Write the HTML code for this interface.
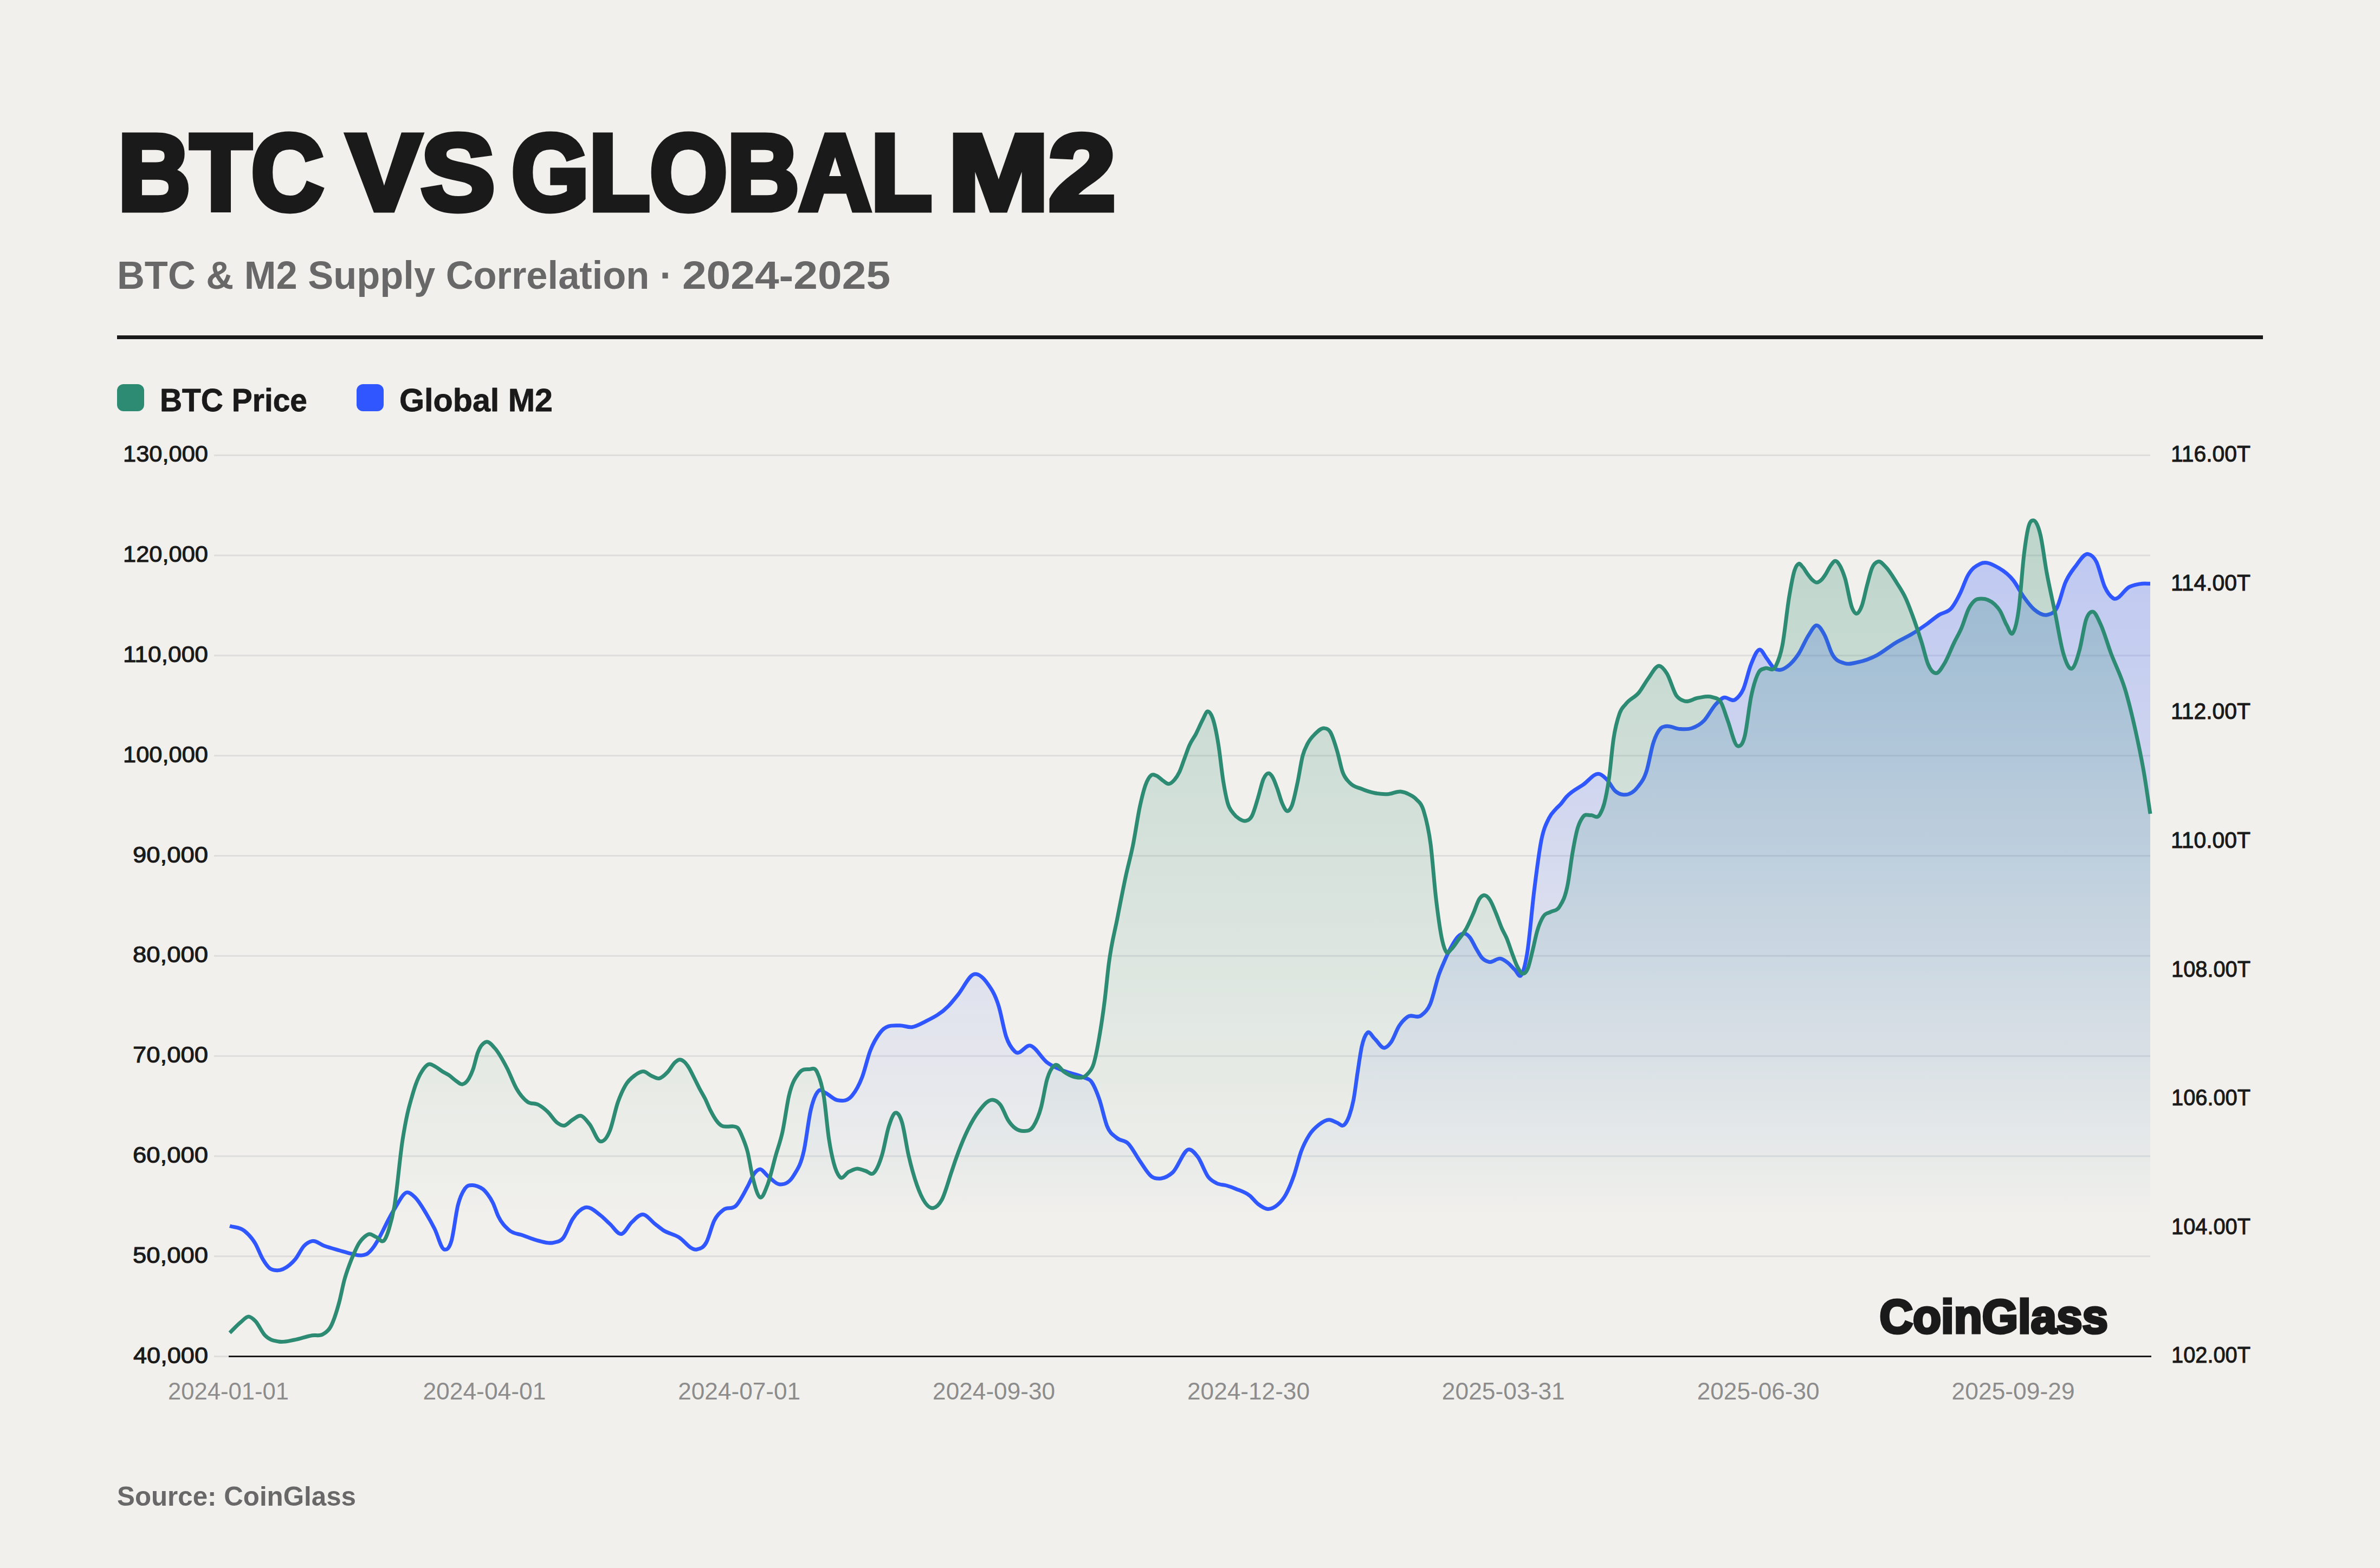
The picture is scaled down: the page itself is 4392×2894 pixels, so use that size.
<!DOCTYPE html><html><head><meta charset="utf-8"><style>html,body{margin:0;padding:0;background:#F1F0EC;}body{width:4392px;height:2894px;overflow:hidden;}svg{display:block;font-family:"Liberation Sans",sans-serif;}</style></head><body>
<svg width="4392" height="2894" viewBox="0 0 4392 2894">
<defs>
<linearGradient id="gg" gradientUnits="userSpaceOnUse" x1="0" y1="960" x2="0" y2="2250"><stop offset="0" stop-color="#2E8B73" stop-opacity="0.270"/><stop offset="1" stop-color="#2E8B73" stop-opacity="0.000"/></linearGradient>
<linearGradient id="bg" gradientUnits="userSpaceOnUse" x1="0" y1="1022" x2="0" y2="2250"><stop offset="0" stop-color="#3057FF" stop-opacity="0.260"/><stop offset="1" stop-color="#3057FF" stop-opacity="0.000"/></linearGradient>
<clipPath id="fc"><rect x="424" y="0" width="3544" height="2237"/></clipPath>
</defs>
<rect width="4392" height="2894" fill="#F1F0EC"/>
<rect x="216" y="619" width="3960" height="7" fill="#1A1A1A"/>
<rect x="216" y="709" width="50" height="50" rx="12" fill="#2E8B73"/>
<rect x="658" y="709" width="50" height="50" rx="12" fill="#3057FF"/>
<rect x="395" y="838.8" width="3573" height="3" fill="#DDDDDB"/>
<rect x="395" y="1023.6" width="3573" height="3" fill="#DDDDDB"/>
<rect x="395" y="1208.4" width="3573" height="3" fill="#DDDDDB"/>
<rect x="395" y="1393.2" width="3573" height="3" fill="#DDDDDB"/>
<rect x="395" y="1578.0" width="3573" height="3" fill="#DDDDDB"/>
<rect x="395" y="1762.8" width="3573" height="3" fill="#DDDDDB"/>
<rect x="395" y="1947.6" width="3573" height="3" fill="#DDDDDB"/>
<rect x="395" y="2132.4" width="3573" height="3" fill="#DDDDDB"/>
<rect x="395" y="2317.2" width="3573" height="3" fill="#DDDDDB"/>
<rect x="395" y="2502.0" width="28" height="3" fill="#DDDDDB"/>
<g clip-path="url(#fc)"><path d="M424.0,2262.7C433.0,2265.7 442.0,2264.4 451.0,2271.7C457.7,2277.1 464.3,2283.7 471.0,2295.0C475.7,2302.9 480.3,2316.2 485.0,2324.0C489.3,2331.3 493.7,2337.6 498.0,2341.0C501.7,2343.8 505.3,2344.2 509.0,2344.6C517.3,2345.5 525.7,2341.8 534.0,2335.0C537.7,2332.0 541.3,2328.5 545.0,2324.0C550.3,2317.5 555.7,2305.2 561.0,2299.6C566.0,2294.4 571.0,2291.6 576.0,2290.6C583.3,2289.1 590.7,2296.6 598.0,2299.2C607.6,2302.6 617.2,2305.2 626.8,2308.0C634.5,2310.2 642.3,2312.7 650.0,2314.3C655.7,2315.5 661.3,2317.7 667.0,2317.0C670.9,2316.5 674.7,2316.2 678.6,2313.4C682.2,2310.9 685.7,2306.7 689.3,2301.8C692.3,2297.7 695.2,2292.7 698.2,2287.5C701.2,2282.3 704.1,2276.3 707.1,2270.5C710.1,2264.7 713.0,2258.4 716.0,2252.7C720.7,2243.8 725.3,2235.4 730.0,2228.0C736.7,2217.4 743.3,2202.9 750.0,2201.0C755.3,2199.5 760.7,2204.9 766.0,2210.0C772.7,2216.4 779.3,2228.0 786.0,2239.0C791.3,2247.8 796.7,2257.5 802.0,2268.0C807.9,2279.6 813.7,2304.4 819.6,2306.0C824.1,2307.3 828.5,2305.9 833.0,2290.6C837.1,2276.7 841.1,2239.9 845.2,2223.9C849.5,2206.7 853.8,2199.6 858.1,2193.4C862.8,2186.9 867.4,2187.6 872.0,2187.4C875.1,2187.3 878.2,2188.4 881.3,2189.6C884.7,2190.9 888.2,2192.1 891.6,2195.0C894.3,2197.3 896.9,2200.3 899.6,2203.9C903.0,2208.4 906.3,2213.3 909.7,2220.2C913.0,2227.0 916.3,2238.1 919.6,2245.0C926.1,2258.4 932.5,2264.2 939.0,2270.0C947.6,2277.8 956.2,2276.8 964.8,2280.0C974.4,2283.5 983.9,2287.8 993.5,2290.0C1003.0,2292.2 1012.5,2295.8 1022.0,2293.3C1027.8,2291.8 1033.6,2292.0 1039.4,2284.7C1045.2,2277.5 1050.9,2258.9 1056.7,2250.0C1064.3,2238.2 1072.0,2230.9 1079.6,2228.7C1089.1,2226.0 1098.5,2235.8 1108.0,2243.0C1113.8,2247.4 1119.7,2253.8 1125.5,2259.0C1132.7,2265.4 1139.8,2279.0 1147.0,2277.5C1153.2,2276.2 1159.5,2261.9 1165.7,2256.0C1172.4,2249.7 1179.1,2241.8 1185.8,2241.6C1193.5,2241.4 1201.1,2253.1 1208.8,2259.0C1213.5,2262.6 1218.3,2266.8 1223.0,2270.0C1232.6,2276.4 1242.2,2277.7 1251.8,2283.0C1263.2,2289.3 1274.6,2309.0 1286.0,2306.0C1291.8,2304.5 1297.7,2303.8 1303.5,2293.0C1308.3,2284.1 1313.2,2262.8 1318.0,2253.0C1323.7,2241.5 1329.3,2237.6 1335.0,2233.0C1342.7,2226.8 1350.3,2233.2 1358.0,2225.5C1365.2,2218.3 1372.4,2203.2 1379.6,2190.0C1383.7,2182.4 1387.9,2171.2 1392.0,2165.8C1395.5,2161.2 1399.1,2158.1 1402.6,2158.0C1407.2,2157.9 1411.7,2166.3 1416.3,2170.0C1423.5,2175.9 1430.6,2184.7 1437.8,2185.7C1446.9,2186.9 1455.9,2184.5 1465.0,2169.0C1471.2,2158.4 1477.5,2151.6 1483.7,2123.0C1487.8,2104.2 1491.9,2067.4 1496.0,2049.4C1501.1,2027.0 1506.2,2017.1 1511.3,2012.7C1515.4,2009.2 1519.4,2015.4 1523.5,2017.3C1530.7,2020.6 1537.8,2029.0 1545.0,2030.5C1554.2,2032.4 1563.3,2033.2 1572.5,2022.0C1578.7,2014.5 1584.8,2004.2 1591.0,1988.0C1596.0,1974.9 1601.0,1952.1 1606.0,1939.0C1612.2,1922.9 1618.3,1913.6 1624.5,1905.5C1636.3,1890.1 1648.0,1893.4 1659.8,1892.7C1667.4,1892.2 1675.1,1896.7 1682.7,1895.7C1690.9,1894.6 1699.0,1889.7 1707.2,1885.6C1721.5,1878.4 1735.7,1871.7 1750.0,1857.0C1756.0,1850.8 1762.0,1843.0 1768.0,1835.7C1778.0,1823.6 1788.0,1799.7 1798.0,1798.0C1805.8,1796.7 1813.6,1803.4 1821.4,1814.0C1828.6,1823.8 1835.8,1833.6 1843.0,1857.0C1847.7,1872.2 1852.3,1900.2 1857.0,1914.0C1862.3,1929.8 1867.7,1935.9 1873.0,1941.0C1882.6,1950.1 1892.2,1927.1 1901.8,1930.0C1911.9,1933.0 1921.9,1953.0 1932.0,1960.7C1942.7,1968.9 1953.3,1972.3 1964.0,1976.8C1976.0,1981.8 1988.0,1982.7 2000.0,1988.6C2004.7,1990.9 2009.3,1990.0 2014.0,1996.4C2018.9,2003.0 2023.7,2014.8 2028.6,2028.6C2033.4,2042.2 2038.2,2066.8 2043.0,2078.6C2048.9,2093.1 2054.8,2094.8 2060.7,2100.0C2067.8,2106.3 2074.9,2103.6 2082.0,2110.7C2089.2,2117.9 2096.4,2132.8 2103.6,2143.0C2110.7,2153.1 2117.9,2166.3 2125.0,2171.4C2130.9,2175.6 2136.9,2175.8 2142.8,2175.0C2149.9,2174.1 2156.9,2170.2 2164.0,2164.0C2174.2,2155.1 2184.4,2120.4 2194.6,2121.4C2200.0,2121.9 2205.3,2128.4 2210.7,2135.7C2217.1,2144.4 2223.6,2164.6 2230.0,2172.7C2235.1,2179.1 2240.2,2181.4 2245.3,2184.0C2251.2,2187.0 2257.1,2186.3 2263.0,2188.0C2269.0,2189.7 2275.0,2191.9 2281.0,2194.4C2289.5,2197.9 2298.0,2200.1 2306.5,2207.0C2311.6,2211.2 2316.7,2218.5 2321.8,2222.4C2327.8,2227.0 2333.7,2231.2 2339.7,2231.4C2345.7,2231.6 2351.6,2228.9 2357.6,2223.7C2362.7,2219.3 2367.8,2213.8 2372.9,2204.6C2377.9,2195.5 2383.0,2183.5 2388.0,2169.0C2392.3,2156.5 2396.7,2137.4 2401.0,2125.5C2406.0,2111.8 2411.0,2103.0 2416.0,2095.0C2422.0,2085.4 2428.0,2080.5 2434.0,2075.8C2440.3,2070.9 2446.7,2066.7 2453.0,2066.8C2457.7,2066.9 2462.3,2070.5 2467.0,2072.0C2471.7,2073.5 2476.3,2080.6 2481.0,2075.8C2484.0,2072.7 2487.0,2067.7 2490.0,2059.0C2492.7,2051.3 2495.3,2042.9 2498.0,2028.6C2500.5,2015.2 2503.0,1993.8 2505.5,1977.6C2508.0,1961.4 2510.5,1943.1 2513.0,1931.6C2516.5,1915.7 2519.9,1909.4 2523.4,1906.0C2527.6,1901.9 2531.8,1912.7 2536.0,1916.3C2542.3,1921.8 2548.7,1935.1 2555.0,1934.0C2558.9,1933.3 2562.8,1929.3 2566.7,1924.0C2571.8,1917.1 2576.9,1901.3 2582.0,1893.4C2587.1,1885.5 2592.2,1880.5 2597.3,1876.8C2605.8,1870.7 2614.4,1881.0 2622.9,1874.0C2628.4,1869.5 2633.9,1865.7 2639.4,1852.8C2644.7,1840.3 2650.1,1813.4 2655.4,1798.6C2657.9,1791.7 2660.4,1785.9 2662.9,1780.0C2667.9,1768.1 2673.0,1756.9 2678.0,1747.9C2682.3,1740.1 2686.7,1732.5 2691.0,1728.3C2695.0,1724.5 2699.0,1722.0 2703.0,1722.9C2706.2,1723.7 2709.5,1726.4 2712.7,1730.5C2716.3,1735.1 2720.0,1743.8 2723.6,1750.0C2727.2,1756.1 2730.8,1763.2 2734.4,1767.4C2738.8,1772.5 2743.2,1774.2 2747.7,1775.4C2754.9,1777.4 2762.2,1767.4 2769.5,1769.3C2773.8,1770.4 2778.2,1773.5 2782.5,1776.9C2786.8,1780.3 2791.2,1786.0 2795.5,1789.9C2799.5,1793.5 2803.4,1805.7 2807.4,1799.6C2811.0,1794.0 2814.6,1781.6 2818.2,1759.5C2822.6,1733.0 2826.9,1677.2 2831.3,1642.5C2835.6,1607.9 2839.9,1573.4 2844.2,1551.5C2848.9,1527.8 2853.6,1520.1 2858.3,1510.3C2862.6,1501.2 2867.0,1497.9 2871.3,1493.0C2874.2,1489.7 2877.1,1487.6 2880.0,1484.3C2883.5,1480.4 2887.0,1474.9 2890.5,1470.9C2900.8,1459.2 2911.1,1455.4 2921.4,1448.4C2931.7,1441.4 2942.0,1425.2 2952.3,1428.8C2957.0,1430.4 2961.6,1434.9 2966.3,1440.0C2971.0,1445.1 2975.7,1455.2 2980.4,1459.6C2985.5,1464.5 2990.7,1466.2 2995.8,1466.7C3004.5,1467.5 3013.1,1464.4 3021.8,1453.0C3027.5,1445.5 3033.3,1440.3 3039.0,1421.5C3042.8,1408.9 3046.7,1385.1 3050.5,1372.7C3055.3,1357.2 3060.0,1348.8 3064.8,1344.0C3067.7,1341.1 3070.5,1341.2 3073.4,1340.5C3082.0,1338.3 3090.7,1344.9 3099.3,1345.4C3106.9,1345.8 3114.4,1346.6 3122.0,1344.0C3129.7,1341.4 3137.3,1337.6 3145.0,1329.6C3151.8,1322.5 3158.5,1308.5 3165.3,1301.0C3170.1,1295.7 3174.8,1290.4 3179.6,1288.0C3187.3,1284.1 3194.9,1296.7 3202.6,1290.9C3207.4,1287.3 3212.2,1282.8 3217.0,1272.0C3221.8,1261.2 3226.5,1238.2 3231.3,1226.3C3236.5,1213.2 3241.8,1199.6 3247.0,1199.0C3251.3,1198.5 3255.7,1209.3 3260.0,1214.8C3264.8,1220.8 3269.5,1230.1 3274.3,1233.5C3278.1,1236.3 3282.0,1236.7 3285.8,1236.3C3290.0,1235.8 3294.2,1233.1 3298.4,1230.0C3305.3,1225.0 3312.1,1217.4 3319.0,1207.0C3325.1,1197.7 3331.3,1181.9 3337.4,1172.6C3342.4,1165.1 3347.3,1154.2 3352.3,1154.2C3357.3,1154.2 3362.3,1163.1 3367.3,1172.6C3371.9,1181.3 3376.4,1198.5 3381.0,1207.0C3388.7,1221.2 3396.3,1221.5 3404.0,1224.2C3412.4,1227.2 3420.9,1223.7 3429.3,1222.0C3440.8,1219.6 3452.2,1215.2 3463.7,1209.3C3475.1,1203.4 3486.6,1193.2 3498.0,1186.4C3508.0,1180.4 3518.0,1176.3 3528.0,1170.3C3537.2,1164.8 3546.3,1158.5 3555.5,1152.0C3563.2,1146.5 3570.8,1139.7 3578.5,1134.7C3586.2,1129.7 3593.8,1131.5 3601.5,1122.0C3606.8,1115.4 3612.2,1105.4 3617.5,1094.5C3622.1,1085.1 3626.7,1070.7 3631.3,1062.4C3639.0,1048.5 3646.6,1044.3 3654.3,1040.6C3665.8,1035.1 3677.4,1041.9 3688.9,1048.6C3697.8,1053.8 3706.7,1060.1 3715.6,1071.5C3722.0,1079.7 3728.4,1093.1 3734.8,1102.0C3741.2,1110.9 3747.6,1119.6 3754.0,1125.0C3762.3,1132.0 3770.5,1137.2 3778.8,1134.7C3784.5,1133.0 3790.3,1132.5 3796.0,1121.3C3801.1,1111.3 3806.2,1087.5 3811.3,1075.4C3817.7,1060.3 3824.0,1053.2 3830.4,1044.8C3838.1,1034.7 3845.7,1021.2 3853.4,1022.6C3858.5,1023.5 3863.6,1026.9 3868.7,1037.0C3873.8,1047.1 3878.9,1071.8 3884.0,1083.0C3889.1,1094.2 3894.2,1100.5 3899.3,1104.0C3909.5,1111.0 3919.7,1087.4 3929.9,1083.0C3937.5,1079.7 3945.2,1078.1 3952.8,1077.3C3957.9,1076.8 3962.9,1077.3 3968.0,1077.3L3968,2503 L424,2503 Z" fill="url(#bg)"/></g>
<path d="M424.0,2262.7C433.0,2265.7 442.0,2264.4 451.0,2271.7C457.7,2277.1 464.3,2283.7 471.0,2295.0C475.7,2302.9 480.3,2316.2 485.0,2324.0C489.3,2331.3 493.7,2337.6 498.0,2341.0C501.7,2343.8 505.3,2344.2 509.0,2344.6C517.3,2345.5 525.7,2341.8 534.0,2335.0C537.7,2332.0 541.3,2328.5 545.0,2324.0C550.3,2317.5 555.7,2305.2 561.0,2299.6C566.0,2294.4 571.0,2291.6 576.0,2290.6C583.3,2289.1 590.7,2296.6 598.0,2299.2C607.6,2302.6 617.2,2305.2 626.8,2308.0C634.5,2310.2 642.3,2312.7 650.0,2314.3C655.7,2315.5 661.3,2317.7 667.0,2317.0C670.9,2316.5 674.7,2316.2 678.6,2313.4C682.2,2310.9 685.7,2306.7 689.3,2301.8C692.3,2297.7 695.2,2292.7 698.2,2287.5C701.2,2282.3 704.1,2276.3 707.1,2270.5C710.1,2264.7 713.0,2258.4 716.0,2252.7C720.7,2243.8 725.3,2235.4 730.0,2228.0C736.7,2217.4 743.3,2202.9 750.0,2201.0C755.3,2199.5 760.7,2204.9 766.0,2210.0C772.7,2216.4 779.3,2228.0 786.0,2239.0C791.3,2247.8 796.7,2257.5 802.0,2268.0C807.9,2279.6 813.7,2304.4 819.6,2306.0C824.1,2307.3 828.5,2305.9 833.0,2290.6C837.1,2276.7 841.1,2239.9 845.2,2223.9C849.5,2206.7 853.8,2199.6 858.1,2193.4C862.8,2186.9 867.4,2187.6 872.0,2187.4C875.1,2187.3 878.2,2188.4 881.3,2189.6C884.7,2190.9 888.2,2192.1 891.6,2195.0C894.3,2197.3 896.9,2200.3 899.6,2203.9C903.0,2208.4 906.3,2213.3 909.7,2220.2C913.0,2227.0 916.3,2238.1 919.6,2245.0C926.1,2258.4 932.5,2264.2 939.0,2270.0C947.6,2277.8 956.2,2276.8 964.8,2280.0C974.4,2283.5 983.9,2287.8 993.5,2290.0C1003.0,2292.2 1012.5,2295.8 1022.0,2293.3C1027.8,2291.8 1033.6,2292.0 1039.4,2284.7C1045.2,2277.5 1050.9,2258.9 1056.7,2250.0C1064.3,2238.2 1072.0,2230.9 1079.6,2228.7C1089.1,2226.0 1098.5,2235.8 1108.0,2243.0C1113.8,2247.4 1119.7,2253.8 1125.5,2259.0C1132.7,2265.4 1139.8,2279.0 1147.0,2277.5C1153.2,2276.2 1159.5,2261.9 1165.7,2256.0C1172.4,2249.7 1179.1,2241.8 1185.8,2241.6C1193.5,2241.4 1201.1,2253.1 1208.8,2259.0C1213.5,2262.6 1218.3,2266.8 1223.0,2270.0C1232.6,2276.4 1242.2,2277.7 1251.8,2283.0C1263.2,2289.3 1274.6,2309.0 1286.0,2306.0C1291.8,2304.5 1297.7,2303.8 1303.5,2293.0C1308.3,2284.1 1313.2,2262.8 1318.0,2253.0C1323.7,2241.5 1329.3,2237.6 1335.0,2233.0C1342.7,2226.8 1350.3,2233.2 1358.0,2225.5C1365.2,2218.3 1372.4,2203.2 1379.6,2190.0C1383.7,2182.4 1387.9,2171.2 1392.0,2165.8C1395.5,2161.2 1399.1,2158.1 1402.6,2158.0C1407.2,2157.9 1411.7,2166.3 1416.3,2170.0C1423.5,2175.9 1430.6,2184.7 1437.8,2185.7C1446.9,2186.9 1455.9,2184.5 1465.0,2169.0C1471.2,2158.4 1477.5,2151.6 1483.7,2123.0C1487.8,2104.2 1491.9,2067.4 1496.0,2049.4C1501.1,2027.0 1506.2,2017.1 1511.3,2012.7C1515.4,2009.2 1519.4,2015.4 1523.5,2017.3C1530.7,2020.6 1537.8,2029.0 1545.0,2030.5C1554.2,2032.4 1563.3,2033.2 1572.5,2022.0C1578.7,2014.5 1584.8,2004.2 1591.0,1988.0C1596.0,1974.9 1601.0,1952.1 1606.0,1939.0C1612.2,1922.9 1618.3,1913.6 1624.5,1905.5C1636.3,1890.1 1648.0,1893.4 1659.8,1892.7C1667.4,1892.2 1675.1,1896.7 1682.7,1895.7C1690.9,1894.6 1699.0,1889.7 1707.2,1885.6C1721.5,1878.4 1735.7,1871.7 1750.0,1857.0C1756.0,1850.8 1762.0,1843.0 1768.0,1835.7C1778.0,1823.6 1788.0,1799.7 1798.0,1798.0C1805.8,1796.7 1813.6,1803.4 1821.4,1814.0C1828.6,1823.8 1835.8,1833.6 1843.0,1857.0C1847.7,1872.2 1852.3,1900.2 1857.0,1914.0C1862.3,1929.8 1867.7,1935.9 1873.0,1941.0C1882.6,1950.1 1892.2,1927.1 1901.8,1930.0C1911.9,1933.0 1921.9,1953.0 1932.0,1960.7C1942.7,1968.9 1953.3,1972.3 1964.0,1976.8C1976.0,1981.8 1988.0,1982.7 2000.0,1988.6C2004.7,1990.9 2009.3,1990.0 2014.0,1996.4C2018.9,2003.0 2023.7,2014.8 2028.6,2028.6C2033.4,2042.2 2038.2,2066.8 2043.0,2078.6C2048.9,2093.1 2054.8,2094.8 2060.7,2100.0C2067.8,2106.3 2074.9,2103.6 2082.0,2110.7C2089.2,2117.9 2096.4,2132.8 2103.6,2143.0C2110.7,2153.1 2117.9,2166.3 2125.0,2171.4C2130.9,2175.6 2136.9,2175.8 2142.8,2175.0C2149.9,2174.1 2156.9,2170.2 2164.0,2164.0C2174.2,2155.1 2184.4,2120.4 2194.6,2121.4C2200.0,2121.9 2205.3,2128.4 2210.7,2135.7C2217.1,2144.4 2223.6,2164.6 2230.0,2172.7C2235.1,2179.1 2240.2,2181.4 2245.3,2184.0C2251.2,2187.0 2257.1,2186.3 2263.0,2188.0C2269.0,2189.7 2275.0,2191.9 2281.0,2194.4C2289.5,2197.9 2298.0,2200.1 2306.5,2207.0C2311.6,2211.2 2316.7,2218.5 2321.8,2222.4C2327.8,2227.0 2333.7,2231.2 2339.7,2231.4C2345.7,2231.6 2351.6,2228.9 2357.6,2223.7C2362.7,2219.3 2367.8,2213.8 2372.9,2204.6C2377.9,2195.5 2383.0,2183.5 2388.0,2169.0C2392.3,2156.5 2396.7,2137.4 2401.0,2125.5C2406.0,2111.8 2411.0,2103.0 2416.0,2095.0C2422.0,2085.4 2428.0,2080.5 2434.0,2075.8C2440.3,2070.9 2446.7,2066.7 2453.0,2066.8C2457.7,2066.9 2462.3,2070.5 2467.0,2072.0C2471.7,2073.5 2476.3,2080.6 2481.0,2075.8C2484.0,2072.7 2487.0,2067.7 2490.0,2059.0C2492.7,2051.3 2495.3,2042.9 2498.0,2028.6C2500.5,2015.2 2503.0,1993.8 2505.5,1977.6C2508.0,1961.4 2510.5,1943.1 2513.0,1931.6C2516.5,1915.7 2519.9,1909.4 2523.4,1906.0C2527.6,1901.9 2531.8,1912.7 2536.0,1916.3C2542.3,1921.8 2548.7,1935.1 2555.0,1934.0C2558.9,1933.3 2562.8,1929.3 2566.7,1924.0C2571.8,1917.1 2576.9,1901.3 2582.0,1893.4C2587.1,1885.5 2592.2,1880.5 2597.3,1876.8C2605.8,1870.7 2614.4,1881.0 2622.9,1874.0C2628.4,1869.5 2633.9,1865.7 2639.4,1852.8C2644.7,1840.3 2650.1,1813.4 2655.4,1798.6C2657.9,1791.7 2660.4,1785.9 2662.9,1780.0C2667.9,1768.1 2673.0,1756.9 2678.0,1747.9C2682.3,1740.1 2686.7,1732.5 2691.0,1728.3C2695.0,1724.5 2699.0,1722.0 2703.0,1722.9C2706.2,1723.7 2709.5,1726.4 2712.7,1730.5C2716.3,1735.1 2720.0,1743.8 2723.6,1750.0C2727.2,1756.1 2730.8,1763.2 2734.4,1767.4C2738.8,1772.5 2743.2,1774.2 2747.7,1775.4C2754.9,1777.4 2762.2,1767.4 2769.5,1769.3C2773.8,1770.4 2778.2,1773.5 2782.5,1776.9C2786.8,1780.3 2791.2,1786.0 2795.5,1789.9C2799.5,1793.5 2803.4,1805.7 2807.4,1799.6C2811.0,1794.0 2814.6,1781.6 2818.2,1759.5C2822.6,1733.0 2826.9,1677.2 2831.3,1642.5C2835.6,1607.9 2839.9,1573.4 2844.2,1551.5C2848.9,1527.8 2853.6,1520.1 2858.3,1510.3C2862.6,1501.2 2867.0,1497.9 2871.3,1493.0C2874.2,1489.7 2877.1,1487.6 2880.0,1484.3C2883.5,1480.4 2887.0,1474.9 2890.5,1470.9C2900.8,1459.2 2911.1,1455.4 2921.4,1448.4C2931.7,1441.4 2942.0,1425.2 2952.3,1428.8C2957.0,1430.4 2961.6,1434.9 2966.3,1440.0C2971.0,1445.1 2975.7,1455.2 2980.4,1459.6C2985.5,1464.5 2990.7,1466.2 2995.8,1466.7C3004.5,1467.5 3013.1,1464.4 3021.8,1453.0C3027.5,1445.5 3033.3,1440.3 3039.0,1421.5C3042.8,1408.9 3046.7,1385.1 3050.5,1372.7C3055.3,1357.2 3060.0,1348.8 3064.8,1344.0C3067.7,1341.1 3070.5,1341.2 3073.4,1340.5C3082.0,1338.3 3090.7,1344.9 3099.3,1345.4C3106.9,1345.8 3114.4,1346.6 3122.0,1344.0C3129.7,1341.4 3137.3,1337.6 3145.0,1329.6C3151.8,1322.5 3158.5,1308.5 3165.3,1301.0C3170.1,1295.7 3174.8,1290.4 3179.6,1288.0C3187.3,1284.1 3194.9,1296.7 3202.6,1290.9C3207.4,1287.3 3212.2,1282.8 3217.0,1272.0C3221.8,1261.2 3226.5,1238.2 3231.3,1226.3C3236.5,1213.2 3241.8,1199.6 3247.0,1199.0C3251.3,1198.5 3255.7,1209.3 3260.0,1214.8C3264.8,1220.8 3269.5,1230.1 3274.3,1233.5C3278.1,1236.3 3282.0,1236.7 3285.8,1236.3C3290.0,1235.8 3294.2,1233.1 3298.4,1230.0C3305.3,1225.0 3312.1,1217.4 3319.0,1207.0C3325.1,1197.7 3331.3,1181.9 3337.4,1172.6C3342.4,1165.1 3347.3,1154.2 3352.3,1154.2C3357.3,1154.2 3362.3,1163.1 3367.3,1172.6C3371.9,1181.3 3376.4,1198.5 3381.0,1207.0C3388.7,1221.2 3396.3,1221.5 3404.0,1224.2C3412.4,1227.2 3420.9,1223.7 3429.3,1222.0C3440.8,1219.6 3452.2,1215.2 3463.7,1209.3C3475.1,1203.4 3486.6,1193.2 3498.0,1186.4C3508.0,1180.4 3518.0,1176.3 3528.0,1170.3C3537.2,1164.8 3546.3,1158.5 3555.5,1152.0C3563.2,1146.5 3570.8,1139.7 3578.5,1134.7C3586.2,1129.7 3593.8,1131.5 3601.5,1122.0C3606.8,1115.4 3612.2,1105.4 3617.5,1094.5C3622.1,1085.1 3626.7,1070.7 3631.3,1062.4C3639.0,1048.5 3646.6,1044.3 3654.3,1040.6C3665.8,1035.1 3677.4,1041.9 3688.9,1048.6C3697.8,1053.8 3706.7,1060.1 3715.6,1071.5C3722.0,1079.7 3728.4,1093.1 3734.8,1102.0C3741.2,1110.9 3747.6,1119.6 3754.0,1125.0C3762.3,1132.0 3770.5,1137.2 3778.8,1134.7C3784.5,1133.0 3790.3,1132.5 3796.0,1121.3C3801.1,1111.3 3806.2,1087.5 3811.3,1075.4C3817.7,1060.3 3824.0,1053.2 3830.4,1044.8C3838.1,1034.7 3845.7,1021.2 3853.4,1022.6C3858.5,1023.5 3863.6,1026.9 3868.7,1037.0C3873.8,1047.1 3878.9,1071.8 3884.0,1083.0C3889.1,1094.2 3894.2,1100.5 3899.3,1104.0C3909.5,1111.0 3919.7,1087.4 3929.9,1083.0C3937.5,1079.7 3945.2,1078.1 3952.8,1077.3C3957.9,1076.8 3962.9,1077.3 3968.0,1077.3" fill="none" stroke="#3057FF" stroke-width="7" stroke-linejoin="round"/>
<g clip-path="url(#fc)"><path d="M424.0,2460.0C430.9,2453.3 437.7,2445.5 444.6,2440.0C449.4,2436.1 454.2,2429.8 459.0,2430.0C463.0,2430.2 467.0,2434.0 471.0,2438.0C477.0,2444.0 483.0,2458.4 489.0,2464.7C497.3,2473.5 505.7,2474.4 514.0,2476.0C523.7,2477.9 533.3,2474.7 543.0,2473.0C554.0,2471.1 565.0,2466.5 576.0,2464.7C582.7,2463.6 589.3,2466.6 596.0,2462.5C600.7,2459.6 605.3,2457.6 610.0,2449.0C615.3,2439.3 620.5,2423.6 625.8,2404.0C629.1,2391.7 632.4,2373.5 635.7,2361.6C638.7,2350.9 641.6,2342.9 644.6,2334.8C647.6,2326.6 650.6,2319.2 653.6,2312.5C656.6,2305.8 659.5,2299.4 662.5,2294.6C665.5,2289.8 668.4,2286.7 671.4,2283.9C674.7,2280.8 678.0,2278.2 681.3,2277.7C685.5,2277.0 689.6,2281.5 693.8,2283.0C699.3,2285.0 704.8,2296.6 710.2,2287.5C712.8,2283.3 715.4,2276.2 717.9,2267.9C721.1,2257.4 724.3,2246.1 727.5,2228.0C732.6,2199.1 737.7,2137.3 742.8,2104.5C745.9,2085.0 748.9,2068.6 752.0,2054.8C754.6,2043.2 757.1,2034.7 759.7,2025.7C762.2,2016.8 764.8,2008.2 767.3,2001.2C770.9,1991.3 774.4,1984.2 778.0,1978.3C782.1,1971.5 786.2,1966.3 790.3,1964.5C794.9,1962.5 799.4,1966.6 804.0,1969.0C808.1,1971.1 812.2,1974.9 816.3,1977.5C820.4,1980.1 824.4,1981.6 828.5,1984.4C832.6,1987.2 836.7,1991.5 840.8,1994.3C844.9,1997.1 848.9,2001.8 853.0,2001.2C857.1,2000.6 861.2,1997.5 865.3,1990.5C867.8,1986.2 870.4,1980.9 872.9,1973.7C875.8,1965.5 878.7,1950.9 881.6,1943.0C886.7,1929.0 891.9,1924.6 897.0,1923.0C902.3,1921.4 907.7,1928.7 913.0,1934.5C920.7,1942.9 928.3,1957.1 936.0,1972.0C941.7,1983.0 947.3,1999.2 953.0,2009.0C959.8,2020.8 966.6,2028.6 973.4,2033.6C980.1,2038.5 986.8,2035.4 993.5,2039.0C999.2,2042.0 1005.0,2046.5 1010.7,2052.0C1016.5,2057.5 1022.2,2067.7 1028.0,2072.0C1032.3,2075.2 1036.7,2077.9 1041.0,2077.5C1046.2,2077.1 1051.5,2069.6 1056.7,2066.6C1061.9,2063.6 1067.2,2058.0 1072.4,2059.4C1077.6,2060.8 1082.8,2068.5 1088.0,2075.0C1094.7,2083.4 1101.3,2105.8 1108.0,2106.7C1113.8,2107.5 1119.7,2101.1 1125.5,2086.7C1130.3,2074.8 1135.2,2049.0 1140.0,2035.0C1144.7,2021.5 1149.3,2011.5 1154.0,2003.4C1159.8,1993.3 1165.7,1989.1 1171.5,1984.8C1176.7,1980.9 1181.8,1977.5 1187.0,1977.6C1192.3,1977.7 1197.7,1983.7 1203.0,1986.0C1207.3,1987.8 1211.7,1991.1 1216.0,1990.5C1221.2,1989.8 1226.5,1984.4 1231.7,1979.0C1236.5,1974.1 1241.3,1964.4 1246.1,1960.4C1248.7,1958.2 1251.2,1956.1 1253.8,1955.8C1256.7,1955.5 1259.5,1957.0 1262.4,1959.4C1265.1,1961.7 1267.9,1965.4 1270.6,1969.6C1274.0,1974.8 1277.4,1982.4 1280.8,1989.0C1284.2,1995.6 1287.6,2002.9 1291.0,2009.4C1294.4,2015.9 1297.8,2021.0 1301.2,2027.8C1304.6,2034.6 1308.0,2043.6 1311.4,2050.2C1314.8,2056.8 1318.2,2063.0 1321.6,2067.6C1325.0,2072.2 1328.4,2075.9 1331.8,2077.8C1335.2,2079.8 1338.6,2079.1 1342.0,2079.3C1346.1,2079.6 1350.2,2077.8 1354.3,2079.0C1357.0,2079.8 1359.7,2079.4 1362.4,2082.9C1365.1,2086.4 1367.9,2093.3 1370.6,2100.0C1373.6,2107.4 1376.6,2114.2 1379.6,2126.0C1382.7,2138.1 1385.7,2159.4 1388.8,2172.0C1393.4,2190.9 1398.0,2207.6 1402.6,2210.0C1407.2,2212.4 1411.7,2198.7 1416.3,2187.0C1421.4,2173.8 1426.6,2150.1 1431.7,2132.0C1435.8,2117.5 1439.9,2107.7 1444.0,2089.0C1448.0,2070.8 1452.0,2039.1 1456.0,2022.0C1462.2,1995.7 1468.3,1988.6 1474.5,1980.5C1480.7,1972.4 1486.8,1973.3 1493.0,1973.5C1498.0,1973.7 1503.0,1968.1 1508.0,1979.0C1512.2,1988.1 1516.3,1998.3 1520.5,2025.0C1523.5,2044.5 1526.6,2081.2 1529.6,2101.5C1532.7,2122.1 1535.7,2135.9 1538.8,2147.4C1542.4,2160.8 1545.9,2167.7 1549.5,2172.0C1555.1,2178.7 1560.8,2165.3 1566.4,2162.7C1571.5,2160.4 1576.6,2157.3 1581.7,2157.0C1586.8,2156.7 1591.9,2159.7 1597.0,2161.0C1602.1,2162.3 1607.2,2169.8 1612.3,2165.0C1617.4,2160.2 1622.5,2148.9 1627.6,2132.0C1631.7,2118.5 1635.8,2093.0 1639.9,2080.0C1643.9,2067.2 1648.0,2055.7 1652.0,2054.0C1656.1,2052.3 1660.3,2057.8 1664.4,2071.0C1668.5,2084.0 1672.5,2114.2 1676.6,2132.0C1681.7,2154.4 1686.9,2172.4 1692.0,2187.0C1702.2,2215.9 1712.3,2231.3 1722.5,2229.5C1727.6,2228.6 1732.7,2224.1 1737.8,2214.8C1743.9,2203.7 1749.9,2180.5 1756.0,2162.7C1758.7,2154.9 1761.3,2146.5 1764.0,2139.0C1771.2,2118.6 1778.5,2100.6 1785.7,2085.7C1792.8,2071.1 1799.9,2059.0 1807.0,2050.0C1815.3,2039.4 1823.7,2029.0 1832.0,2030.0C1836.7,2030.6 1841.3,2033.0 1846.0,2039.0C1850.9,2045.3 1855.8,2060.5 1860.7,2068.0C1870.1,2082.5 1879.6,2087.8 1889.0,2087.5C1895.0,2087.3 1901.0,2088.2 1907.0,2078.6C1911.8,2071.0 1916.6,2061.1 1921.4,2043.0C1924.9,2029.7 1928.5,2005.4 1932.0,1993.0C1936.8,1976.1 1941.6,1969.4 1946.4,1966.0C1952.3,1961.8 1958.1,1975.0 1964.0,1978.6C1970.0,1982.2 1976.0,1986.3 1982.0,1987.5C1990.3,1989.1 1998.7,1992.0 2007.0,1982.0C2010.7,1977.6 2014.3,1975.8 2018.0,1964.0C2021.5,1952.7 2025.1,1934.4 2028.6,1914.0C2032.1,1894.0 2035.5,1871.2 2039.0,1843.0C2041.3,1824.0 2043.7,1798.4 2046.0,1780.0C2051.3,1737.9 2056.7,1722.0 2062.0,1694.5C2067.3,1667.0 2072.7,1639.3 2078.0,1614.8C2082.2,1595.5 2086.4,1581.3 2090.6,1560.6C2094.9,1539.5 2099.2,1508.7 2103.4,1488.9C2106.9,1473.0 2110.3,1458.7 2113.8,1449.1C2117.4,1439.1 2120.9,1433.5 2124.5,1430.8C2127.6,1428.5 2130.6,1430.4 2133.7,1431.5C2137.8,1433.0 2141.8,1438.0 2145.9,1440.7C2149.5,1443.0 2153.0,1447.0 2156.6,1446.8C2160.2,1446.5 2163.7,1443.4 2167.3,1439.2C2170.4,1435.6 2173.4,1431.2 2176.5,1424.7C2179.6,1418.2 2182.6,1408.4 2185.7,1400.2C2188.8,1392.0 2191.8,1382.7 2194.9,1375.7C2199.0,1366.5 2203.0,1362.2 2207.1,1354.3C2211.2,1346.4 2215.3,1335.9 2219.4,1328.3C2222.4,1322.6 2225.5,1313.6 2228.5,1313.0C2231.6,1312.4 2234.6,1316.6 2237.7,1325.2C2241.3,1335.3 2244.9,1352.1 2248.4,1374.2C2251.5,1392.9 2254.5,1424.3 2257.6,1443.0C2260.2,1458.8 2262.7,1471.9 2265.3,1481.3C2268.9,1494.4 2272.4,1496.2 2276.0,1501.2C2279.6,1506.2 2283.1,1508.8 2286.7,1511.1C2290.9,1513.8 2295.2,1516.2 2299.4,1514.9C2303.0,1513.8 2306.5,1512.8 2310.1,1506.2C2313.9,1499.2 2317.7,1484.9 2321.4,1472.7C2324.8,1461.9 2328.2,1445.5 2331.5,1437.9C2334.9,1430.3 2338.2,1426.6 2341.6,1427.2C2344.0,1427.7 2346.5,1430.9 2348.9,1435.2C2351.6,1439.9 2354.3,1448.0 2357.0,1455.3C2360.1,1463.8 2363.3,1476.4 2366.4,1483.4C2369.3,1489.9 2372.2,1496.1 2375.1,1496.8C2378.0,1497.5 2380.9,1494.4 2383.8,1487.4C2387.4,1478.8 2390.9,1460.6 2394.5,1444.0C2397.6,1429.3 2400.8,1407.0 2403.9,1395.0C2407.0,1383.2 2410.1,1378.3 2413.2,1372.2C2417.7,1363.4 2422.1,1359.3 2426.6,1354.8C2432.4,1349.0 2438.2,1343.2 2444.0,1344.1C2447.6,1344.6 2451.2,1345.0 2454.8,1350.8C2459.0,1357.6 2463.2,1371.4 2467.4,1385.7C2470.8,1397.0 2474.2,1414.9 2477.5,1424.5C2482.1,1437.6 2486.6,1440.2 2491.2,1445.2C2498.1,1453.0 2505.1,1452.9 2512.0,1455.8C2520.5,1459.4 2528.9,1462.2 2537.4,1463.8C2545.9,1465.4 2554.5,1466.1 2563.0,1465.4C2570.3,1464.8 2577.7,1460.1 2585.0,1461.0C2590.0,1461.6 2595.0,1463.4 2600.0,1466.0C2604.3,1468.2 2608.7,1470.0 2613.0,1474.7C2617.7,1479.8 2622.4,1481.1 2627.1,1496.3C2631.5,1510.5 2635.8,1525.3 2640.2,1559.3C2643.4,1584.6 2646.6,1629.1 2649.8,1656.8C2653.8,1690.7 2657.8,1720.0 2661.8,1737.0C2664.3,1747.9 2666.8,1754.7 2669.4,1757.6C2672.3,1760.8 2675.1,1754.8 2678.0,1752.2C2682.3,1748.3 2686.7,1740.9 2691.0,1734.9C2696.1,1727.9 2701.1,1722.5 2706.2,1713.2C2710.5,1705.3 2714.9,1695.0 2719.2,1685.0C2722.8,1676.7 2726.4,1664.4 2730.0,1659.0C2732.6,1655.2 2735.1,1653.1 2737.7,1652.5C2741.7,1651.6 2745.6,1655.2 2749.6,1661.1C2753.3,1666.7 2757.1,1676.9 2760.8,1685.9C2764.4,1694.6 2768.1,1705.8 2771.7,1714.0C2774.6,1720.5 2777.4,1724.6 2780.3,1731.4C2783.9,1740.0 2787.6,1752.1 2791.2,1761.7C2794.1,1769.3 2796.9,1777.6 2799.8,1783.4C2802.7,1789.2 2805.6,1795.0 2808.5,1796.4C2812.1,1798.1 2815.7,1796.4 2819.3,1787.7C2822.2,1780.7 2825.1,1766.8 2828.0,1755.2C2830.9,1743.7 2833.8,1728.3 2836.7,1718.4C2840.3,1706.1 2843.9,1698.3 2847.5,1692.3C2852.6,1683.8 2857.6,1685.7 2862.7,1682.6C2867.6,1679.6 2872.6,1682.0 2877.5,1674.0C2882.8,1665.5 2888.0,1658.7 2893.3,1631.0C2896.1,1616.1 2899.0,1591.2 2901.8,1574.7C2904.6,1558.4 2907.4,1543.3 2910.2,1532.6C2913.9,1518.3 2917.7,1512.4 2921.4,1507.4C2926.1,1501.2 2930.7,1505.3 2935.4,1504.6C2941.0,1503.8 2946.7,1512.8 2952.3,1503.2C2955.1,1498.4 2957.9,1493.1 2960.7,1482.1C2963.5,1471.1 2966.3,1456.8 2969.1,1437.2C2971.9,1417.6 2974.7,1383.2 2977.5,1364.2C2981.3,1338.6 2985.0,1327.3 2988.8,1316.5C2992.5,1305.8 2996.3,1304.5 3000.0,1299.6C3008.2,1288.8 3016.4,1288.3 3024.6,1278.0C3030.3,1270.8 3036.1,1259.7 3041.8,1252.0C3048.5,1243.0 3055.3,1228.2 3062.0,1229.0C3066.8,1229.6 3071.5,1235.8 3076.3,1243.5C3082.0,1252.8 3087.8,1275.4 3093.5,1283.7C3098.3,1290.6 3103.1,1291.9 3107.9,1293.7C3116.5,1296.9 3125.1,1289.2 3133.7,1288.0C3142.3,1286.8 3150.9,1283.4 3159.5,1286.6C3165.2,1288.8 3171.0,1287.0 3176.7,1298.0C3180.5,1305.3 3184.4,1319.4 3188.2,1329.6C3194.4,1346.2 3200.7,1375.9 3206.9,1377.0C3211.2,1377.8 3215.5,1375.4 3219.8,1358.3C3223.6,1343.0 3227.5,1305.3 3231.3,1286.6C3236.1,1263.3 3240.8,1249.1 3245.6,1240.6C3249.4,1233.9 3253.2,1235.3 3257.0,1233.5C3263.7,1230.3 3270.5,1242.9 3277.2,1229.0C3281.2,1220.7 3285.2,1211.4 3289.2,1191.0C3293.4,1169.5 3297.6,1125.7 3301.8,1100.9C3305.0,1082.0 3308.2,1063.4 3311.4,1053.4C3314.2,1044.9 3316.9,1041.2 3319.6,1040.4C3322.0,1039.7 3324.3,1043.9 3326.7,1046.5C3329.8,1049.9 3332.8,1055.7 3335.9,1059.8C3338.6,1063.5 3341.4,1067.5 3344.1,1070.0C3347.0,1072.7 3349.9,1075.1 3352.8,1075.1C3355.7,1075.1 3358.5,1072.8 3361.4,1070.0C3364.1,1067.3 3366.9,1063.0 3369.6,1058.8C3372.3,1054.5 3375.1,1048.3 3377.8,1044.5C3380.8,1040.3 3383.9,1035.2 3386.9,1035.3C3389.6,1035.4 3392.4,1038.9 3395.1,1043.5C3398.3,1048.9 3401.5,1057.1 3404.8,1067.4C3409.1,1081.4 3413.5,1111.5 3417.8,1122.0C3420.2,1127.8 3422.6,1131.6 3425.0,1132.4C3428.7,1133.6 3432.3,1127.6 3436.0,1117.5C3439.1,1108.9 3442.2,1092.2 3445.3,1080.7C3448.4,1069.3 3451.4,1056.0 3454.5,1048.6C3458.3,1039.4 3462.2,1037.4 3466.0,1036.4C3470.6,1035.2 3475.2,1041.7 3479.8,1046.3C3486.7,1053.2 3493.5,1065.0 3500.4,1076.0C3505.8,1084.6 3511.1,1092.2 3516.5,1103.7C3521.9,1115.2 3527.2,1130.0 3532.6,1145.0C3537.2,1157.9 3541.8,1171.5 3546.4,1186.4C3550.2,1198.7 3554.0,1216.1 3557.8,1225.4C3562.8,1237.6 3567.8,1242.6 3572.8,1242.6C3577.8,1242.6 3582.7,1233.3 3587.7,1225.4C3593.8,1215.7 3599.9,1198.9 3606.0,1186.4C3610.6,1176.9 3615.2,1169.5 3619.8,1158.8C3624.3,1148.4 3628.7,1131.8 3633.2,1123.2C3637.4,1114.9 3641.7,1110.1 3645.9,1107.2C3649.5,1104.7 3653.2,1105.0 3656.8,1105.0C3660.6,1105.0 3664.5,1105.6 3668.3,1107.2C3672.5,1108.9 3676.8,1111.4 3681.0,1115.5C3684.2,1118.6 3687.4,1121.9 3690.6,1127.0C3694.8,1133.8 3699.1,1146.8 3703.3,1154.1C3706.9,1160.3 3710.5,1173.4 3714.1,1168.8C3718.0,1163.9 3721.8,1151.4 3725.7,1121.9C3728.7,1098.5 3731.8,1051.0 3734.8,1025.6C3737.3,1004.4 3739.9,987.1 3742.4,976.0C3745.8,960.9 3749.3,960.2 3752.7,960.6C3756.9,961.1 3761.2,969.8 3765.4,987.4C3769.2,1003.2 3773.0,1035.1 3776.8,1056.0C3781.9,1083.9 3786.9,1104.3 3792.0,1129.0C3797.2,1154.1 3802.3,1187.9 3807.5,1205.4C3812.8,1223.4 3818.2,1236.5 3823.5,1234.0C3828.3,1231.8 3833.2,1215.7 3838.0,1197.8C3841.8,1183.6 3845.7,1155.5 3849.5,1144.0C3853.6,1131.7 3857.7,1128.7 3861.8,1129.0C3866.6,1129.3 3871.5,1141.7 3876.3,1151.9C3882.7,1165.3 3889.0,1188.2 3895.4,1205.4C3904.3,1229.6 3913.3,1243.9 3922.2,1274.3C3928.6,1296.0 3934.9,1321.8 3941.3,1350.8C3946.4,1374.0 3951.5,1397.3 3956.6,1427.3C3960.4,1449.7 3964.2,1477.1 3968.0,1502.0L3968,2503 L424,2503 Z" fill="url(#gg)"/></g>
<path d="M424.0,2460.0C430.9,2453.3 437.7,2445.5 444.6,2440.0C449.4,2436.1 454.2,2429.8 459.0,2430.0C463.0,2430.2 467.0,2434.0 471.0,2438.0C477.0,2444.0 483.0,2458.4 489.0,2464.7C497.3,2473.5 505.7,2474.4 514.0,2476.0C523.7,2477.9 533.3,2474.7 543.0,2473.0C554.0,2471.1 565.0,2466.5 576.0,2464.7C582.7,2463.6 589.3,2466.6 596.0,2462.5C600.7,2459.6 605.3,2457.6 610.0,2449.0C615.3,2439.3 620.5,2423.6 625.8,2404.0C629.1,2391.7 632.4,2373.5 635.7,2361.6C638.7,2350.9 641.6,2342.9 644.6,2334.8C647.6,2326.6 650.6,2319.2 653.6,2312.5C656.6,2305.8 659.5,2299.4 662.5,2294.6C665.5,2289.8 668.4,2286.7 671.4,2283.9C674.7,2280.8 678.0,2278.2 681.3,2277.7C685.5,2277.0 689.6,2281.5 693.8,2283.0C699.3,2285.0 704.8,2296.6 710.2,2287.5C712.8,2283.3 715.4,2276.2 717.9,2267.9C721.1,2257.4 724.3,2246.1 727.5,2228.0C732.6,2199.1 737.7,2137.3 742.8,2104.5C745.9,2085.0 748.9,2068.6 752.0,2054.8C754.6,2043.2 757.1,2034.7 759.7,2025.7C762.2,2016.8 764.8,2008.2 767.3,2001.2C770.9,1991.3 774.4,1984.2 778.0,1978.3C782.1,1971.5 786.2,1966.3 790.3,1964.5C794.9,1962.5 799.4,1966.6 804.0,1969.0C808.1,1971.1 812.2,1974.9 816.3,1977.5C820.4,1980.1 824.4,1981.6 828.5,1984.4C832.6,1987.2 836.7,1991.5 840.8,1994.3C844.9,1997.1 848.9,2001.8 853.0,2001.2C857.1,2000.6 861.2,1997.5 865.3,1990.5C867.8,1986.2 870.4,1980.9 872.9,1973.7C875.8,1965.5 878.7,1950.9 881.6,1943.0C886.7,1929.0 891.9,1924.6 897.0,1923.0C902.3,1921.4 907.7,1928.7 913.0,1934.5C920.7,1942.9 928.3,1957.1 936.0,1972.0C941.7,1983.0 947.3,1999.2 953.0,2009.0C959.8,2020.8 966.6,2028.6 973.4,2033.6C980.1,2038.5 986.8,2035.4 993.5,2039.0C999.2,2042.0 1005.0,2046.5 1010.7,2052.0C1016.5,2057.5 1022.2,2067.7 1028.0,2072.0C1032.3,2075.2 1036.7,2077.9 1041.0,2077.5C1046.2,2077.1 1051.5,2069.6 1056.7,2066.6C1061.9,2063.6 1067.2,2058.0 1072.4,2059.4C1077.6,2060.8 1082.8,2068.5 1088.0,2075.0C1094.7,2083.4 1101.3,2105.8 1108.0,2106.7C1113.8,2107.5 1119.7,2101.1 1125.5,2086.7C1130.3,2074.8 1135.2,2049.0 1140.0,2035.0C1144.7,2021.5 1149.3,2011.5 1154.0,2003.4C1159.8,1993.3 1165.7,1989.1 1171.5,1984.8C1176.7,1980.9 1181.8,1977.5 1187.0,1977.6C1192.3,1977.7 1197.7,1983.7 1203.0,1986.0C1207.3,1987.8 1211.7,1991.1 1216.0,1990.5C1221.2,1989.8 1226.5,1984.4 1231.7,1979.0C1236.5,1974.1 1241.3,1964.4 1246.1,1960.4C1248.7,1958.2 1251.2,1956.1 1253.8,1955.8C1256.7,1955.5 1259.5,1957.0 1262.4,1959.4C1265.1,1961.7 1267.9,1965.4 1270.6,1969.6C1274.0,1974.8 1277.4,1982.4 1280.8,1989.0C1284.2,1995.6 1287.6,2002.9 1291.0,2009.4C1294.4,2015.9 1297.8,2021.0 1301.2,2027.8C1304.6,2034.6 1308.0,2043.6 1311.4,2050.2C1314.8,2056.8 1318.2,2063.0 1321.6,2067.6C1325.0,2072.2 1328.4,2075.9 1331.8,2077.8C1335.2,2079.8 1338.6,2079.1 1342.0,2079.3C1346.1,2079.6 1350.2,2077.8 1354.3,2079.0C1357.0,2079.8 1359.7,2079.4 1362.4,2082.9C1365.1,2086.4 1367.9,2093.3 1370.6,2100.0C1373.6,2107.4 1376.6,2114.2 1379.6,2126.0C1382.7,2138.1 1385.7,2159.4 1388.8,2172.0C1393.4,2190.9 1398.0,2207.6 1402.6,2210.0C1407.2,2212.4 1411.7,2198.7 1416.3,2187.0C1421.4,2173.8 1426.6,2150.1 1431.7,2132.0C1435.8,2117.5 1439.9,2107.7 1444.0,2089.0C1448.0,2070.8 1452.0,2039.1 1456.0,2022.0C1462.2,1995.7 1468.3,1988.6 1474.5,1980.5C1480.7,1972.4 1486.8,1973.3 1493.0,1973.5C1498.0,1973.7 1503.0,1968.1 1508.0,1979.0C1512.2,1988.1 1516.3,1998.3 1520.5,2025.0C1523.5,2044.5 1526.6,2081.2 1529.6,2101.5C1532.7,2122.1 1535.7,2135.9 1538.8,2147.4C1542.4,2160.8 1545.9,2167.7 1549.5,2172.0C1555.1,2178.7 1560.8,2165.3 1566.4,2162.7C1571.5,2160.4 1576.6,2157.3 1581.7,2157.0C1586.8,2156.7 1591.9,2159.7 1597.0,2161.0C1602.1,2162.3 1607.2,2169.8 1612.3,2165.0C1617.4,2160.2 1622.5,2148.9 1627.6,2132.0C1631.7,2118.5 1635.8,2093.0 1639.9,2080.0C1643.9,2067.2 1648.0,2055.7 1652.0,2054.0C1656.1,2052.3 1660.3,2057.8 1664.4,2071.0C1668.5,2084.0 1672.5,2114.2 1676.6,2132.0C1681.7,2154.4 1686.9,2172.4 1692.0,2187.0C1702.2,2215.9 1712.3,2231.3 1722.5,2229.5C1727.6,2228.6 1732.7,2224.1 1737.8,2214.8C1743.9,2203.7 1749.9,2180.5 1756.0,2162.7C1758.7,2154.9 1761.3,2146.5 1764.0,2139.0C1771.2,2118.6 1778.5,2100.6 1785.7,2085.7C1792.8,2071.1 1799.9,2059.0 1807.0,2050.0C1815.3,2039.4 1823.7,2029.0 1832.0,2030.0C1836.7,2030.6 1841.3,2033.0 1846.0,2039.0C1850.9,2045.3 1855.8,2060.5 1860.7,2068.0C1870.1,2082.5 1879.6,2087.8 1889.0,2087.5C1895.0,2087.3 1901.0,2088.2 1907.0,2078.6C1911.8,2071.0 1916.6,2061.1 1921.4,2043.0C1924.9,2029.7 1928.5,2005.4 1932.0,1993.0C1936.8,1976.1 1941.6,1969.4 1946.4,1966.0C1952.3,1961.8 1958.1,1975.0 1964.0,1978.6C1970.0,1982.2 1976.0,1986.3 1982.0,1987.5C1990.3,1989.1 1998.7,1992.0 2007.0,1982.0C2010.7,1977.6 2014.3,1975.8 2018.0,1964.0C2021.5,1952.7 2025.1,1934.4 2028.6,1914.0C2032.1,1894.0 2035.5,1871.2 2039.0,1843.0C2041.3,1824.0 2043.7,1798.4 2046.0,1780.0C2051.3,1737.9 2056.7,1722.0 2062.0,1694.5C2067.3,1667.0 2072.7,1639.3 2078.0,1614.8C2082.2,1595.5 2086.4,1581.3 2090.6,1560.6C2094.9,1539.5 2099.2,1508.7 2103.4,1488.9C2106.9,1473.0 2110.3,1458.7 2113.8,1449.1C2117.4,1439.1 2120.9,1433.5 2124.5,1430.8C2127.6,1428.5 2130.6,1430.4 2133.7,1431.5C2137.8,1433.0 2141.8,1438.0 2145.9,1440.7C2149.5,1443.0 2153.0,1447.0 2156.6,1446.8C2160.2,1446.5 2163.7,1443.4 2167.3,1439.2C2170.4,1435.6 2173.4,1431.2 2176.5,1424.7C2179.6,1418.2 2182.6,1408.4 2185.7,1400.2C2188.8,1392.0 2191.8,1382.7 2194.9,1375.7C2199.0,1366.5 2203.0,1362.2 2207.1,1354.3C2211.2,1346.4 2215.3,1335.9 2219.4,1328.3C2222.4,1322.6 2225.5,1313.6 2228.5,1313.0C2231.6,1312.4 2234.6,1316.6 2237.7,1325.2C2241.3,1335.3 2244.9,1352.1 2248.4,1374.2C2251.5,1392.9 2254.5,1424.3 2257.6,1443.0C2260.2,1458.8 2262.7,1471.9 2265.3,1481.3C2268.9,1494.4 2272.4,1496.2 2276.0,1501.2C2279.6,1506.2 2283.1,1508.8 2286.7,1511.1C2290.9,1513.8 2295.2,1516.2 2299.4,1514.9C2303.0,1513.8 2306.5,1512.8 2310.1,1506.2C2313.9,1499.2 2317.7,1484.9 2321.4,1472.7C2324.8,1461.9 2328.2,1445.5 2331.5,1437.9C2334.9,1430.3 2338.2,1426.6 2341.6,1427.2C2344.0,1427.7 2346.5,1430.9 2348.9,1435.2C2351.6,1439.9 2354.3,1448.0 2357.0,1455.3C2360.1,1463.8 2363.3,1476.4 2366.4,1483.4C2369.3,1489.9 2372.2,1496.1 2375.1,1496.8C2378.0,1497.5 2380.9,1494.4 2383.8,1487.4C2387.4,1478.8 2390.9,1460.6 2394.5,1444.0C2397.6,1429.3 2400.8,1407.0 2403.9,1395.0C2407.0,1383.2 2410.1,1378.3 2413.2,1372.2C2417.7,1363.4 2422.1,1359.3 2426.6,1354.8C2432.4,1349.0 2438.2,1343.2 2444.0,1344.1C2447.6,1344.6 2451.2,1345.0 2454.8,1350.8C2459.0,1357.6 2463.2,1371.4 2467.4,1385.7C2470.8,1397.0 2474.2,1414.9 2477.5,1424.5C2482.1,1437.6 2486.6,1440.2 2491.2,1445.2C2498.1,1453.0 2505.1,1452.9 2512.0,1455.8C2520.5,1459.4 2528.9,1462.2 2537.4,1463.8C2545.9,1465.4 2554.5,1466.1 2563.0,1465.4C2570.3,1464.8 2577.7,1460.1 2585.0,1461.0C2590.0,1461.6 2595.0,1463.4 2600.0,1466.0C2604.3,1468.2 2608.7,1470.0 2613.0,1474.7C2617.7,1479.8 2622.4,1481.1 2627.1,1496.3C2631.5,1510.5 2635.8,1525.3 2640.2,1559.3C2643.4,1584.6 2646.6,1629.1 2649.8,1656.8C2653.8,1690.7 2657.8,1720.0 2661.8,1737.0C2664.3,1747.9 2666.8,1754.7 2669.4,1757.6C2672.3,1760.8 2675.1,1754.8 2678.0,1752.2C2682.3,1748.3 2686.7,1740.9 2691.0,1734.9C2696.1,1727.9 2701.1,1722.5 2706.2,1713.2C2710.5,1705.3 2714.9,1695.0 2719.2,1685.0C2722.8,1676.7 2726.4,1664.4 2730.0,1659.0C2732.6,1655.2 2735.1,1653.1 2737.7,1652.5C2741.7,1651.6 2745.6,1655.2 2749.6,1661.1C2753.3,1666.7 2757.1,1676.9 2760.8,1685.9C2764.4,1694.6 2768.1,1705.8 2771.7,1714.0C2774.6,1720.5 2777.4,1724.6 2780.3,1731.4C2783.9,1740.0 2787.6,1752.1 2791.2,1761.7C2794.1,1769.3 2796.9,1777.6 2799.8,1783.4C2802.7,1789.2 2805.6,1795.0 2808.5,1796.4C2812.1,1798.1 2815.7,1796.4 2819.3,1787.7C2822.2,1780.7 2825.1,1766.8 2828.0,1755.2C2830.9,1743.7 2833.8,1728.3 2836.7,1718.4C2840.3,1706.1 2843.9,1698.3 2847.5,1692.3C2852.6,1683.8 2857.6,1685.7 2862.7,1682.6C2867.6,1679.6 2872.6,1682.0 2877.5,1674.0C2882.8,1665.5 2888.0,1658.7 2893.3,1631.0C2896.1,1616.1 2899.0,1591.2 2901.8,1574.7C2904.6,1558.4 2907.4,1543.3 2910.2,1532.6C2913.9,1518.3 2917.7,1512.4 2921.4,1507.4C2926.1,1501.2 2930.7,1505.3 2935.4,1504.6C2941.0,1503.8 2946.7,1512.8 2952.3,1503.2C2955.1,1498.4 2957.9,1493.1 2960.7,1482.1C2963.5,1471.1 2966.3,1456.8 2969.1,1437.2C2971.9,1417.6 2974.7,1383.2 2977.5,1364.2C2981.3,1338.6 2985.0,1327.3 2988.8,1316.5C2992.5,1305.8 2996.3,1304.5 3000.0,1299.6C3008.2,1288.8 3016.4,1288.3 3024.6,1278.0C3030.3,1270.8 3036.1,1259.7 3041.8,1252.0C3048.5,1243.0 3055.3,1228.2 3062.0,1229.0C3066.8,1229.6 3071.5,1235.8 3076.3,1243.5C3082.0,1252.8 3087.8,1275.4 3093.5,1283.7C3098.3,1290.6 3103.1,1291.9 3107.9,1293.7C3116.5,1296.9 3125.1,1289.2 3133.7,1288.0C3142.3,1286.8 3150.9,1283.4 3159.5,1286.6C3165.2,1288.8 3171.0,1287.0 3176.7,1298.0C3180.5,1305.3 3184.4,1319.4 3188.2,1329.6C3194.4,1346.2 3200.7,1375.9 3206.9,1377.0C3211.2,1377.8 3215.5,1375.4 3219.8,1358.3C3223.6,1343.0 3227.5,1305.3 3231.3,1286.6C3236.1,1263.3 3240.8,1249.1 3245.6,1240.6C3249.4,1233.9 3253.2,1235.3 3257.0,1233.5C3263.7,1230.3 3270.5,1242.9 3277.2,1229.0C3281.2,1220.7 3285.2,1211.4 3289.2,1191.0C3293.4,1169.5 3297.6,1125.7 3301.8,1100.9C3305.0,1082.0 3308.2,1063.4 3311.4,1053.4C3314.2,1044.9 3316.9,1041.2 3319.6,1040.4C3322.0,1039.7 3324.3,1043.9 3326.7,1046.5C3329.8,1049.9 3332.8,1055.7 3335.9,1059.8C3338.6,1063.5 3341.4,1067.5 3344.1,1070.0C3347.0,1072.7 3349.9,1075.1 3352.8,1075.1C3355.7,1075.1 3358.5,1072.8 3361.4,1070.0C3364.1,1067.3 3366.9,1063.0 3369.6,1058.8C3372.3,1054.5 3375.1,1048.3 3377.8,1044.5C3380.8,1040.3 3383.9,1035.2 3386.9,1035.3C3389.6,1035.4 3392.4,1038.9 3395.1,1043.5C3398.3,1048.9 3401.5,1057.1 3404.8,1067.4C3409.1,1081.4 3413.5,1111.5 3417.8,1122.0C3420.2,1127.8 3422.6,1131.6 3425.0,1132.4C3428.7,1133.6 3432.3,1127.6 3436.0,1117.5C3439.1,1108.9 3442.2,1092.2 3445.3,1080.7C3448.4,1069.3 3451.4,1056.0 3454.5,1048.6C3458.3,1039.4 3462.2,1037.4 3466.0,1036.4C3470.6,1035.2 3475.2,1041.7 3479.8,1046.3C3486.7,1053.2 3493.5,1065.0 3500.4,1076.0C3505.8,1084.6 3511.1,1092.2 3516.5,1103.7C3521.9,1115.2 3527.2,1130.0 3532.6,1145.0C3537.2,1157.9 3541.8,1171.5 3546.4,1186.4C3550.2,1198.7 3554.0,1216.1 3557.8,1225.4C3562.8,1237.6 3567.8,1242.6 3572.8,1242.6C3577.8,1242.6 3582.7,1233.3 3587.7,1225.4C3593.8,1215.7 3599.9,1198.9 3606.0,1186.4C3610.6,1176.9 3615.2,1169.5 3619.8,1158.8C3624.3,1148.4 3628.7,1131.8 3633.2,1123.2C3637.4,1114.9 3641.7,1110.1 3645.9,1107.2C3649.5,1104.7 3653.2,1105.0 3656.8,1105.0C3660.6,1105.0 3664.5,1105.6 3668.3,1107.2C3672.5,1108.9 3676.8,1111.4 3681.0,1115.5C3684.2,1118.6 3687.4,1121.9 3690.6,1127.0C3694.8,1133.8 3699.1,1146.8 3703.3,1154.1C3706.9,1160.3 3710.5,1173.4 3714.1,1168.8C3718.0,1163.9 3721.8,1151.4 3725.7,1121.9C3728.7,1098.5 3731.8,1051.0 3734.8,1025.6C3737.3,1004.4 3739.9,987.1 3742.4,976.0C3745.8,960.9 3749.3,960.2 3752.7,960.6C3756.9,961.1 3761.2,969.8 3765.4,987.4C3769.2,1003.2 3773.0,1035.1 3776.8,1056.0C3781.9,1083.9 3786.9,1104.3 3792.0,1129.0C3797.2,1154.1 3802.3,1187.9 3807.5,1205.4C3812.8,1223.4 3818.2,1236.5 3823.5,1234.0C3828.3,1231.8 3833.2,1215.7 3838.0,1197.8C3841.8,1183.6 3845.7,1155.5 3849.5,1144.0C3853.6,1131.7 3857.7,1128.7 3861.8,1129.0C3866.6,1129.3 3871.5,1141.7 3876.3,1151.9C3882.7,1165.3 3889.0,1188.2 3895.4,1205.4C3904.3,1229.6 3913.3,1243.9 3922.2,1274.3C3928.6,1296.0 3934.9,1321.8 3941.3,1350.8C3946.4,1374.0 3951.5,1397.3 3956.6,1427.3C3960.4,1449.7 3964.2,1477.1 3968.0,1502.0" fill="none" stroke="#2E8B73" stroke-width="7" stroke-linejoin="round"/>
<rect x="422" y="2502" width="3548" height="3" fill="#1A1A1A"/>
<text x="218.0" y="386.5" font-size="198.00" font-weight="700" fill="#1A1A1A" stroke="#1A1A1A" stroke-width="11.00" stroke-linejoin="miter" textLength="379.0" lengthAdjust="spacingAndGlyphs">BTC</text>
<text x="640.6" y="386.5" font-size="198.00" font-weight="700" fill="#1A1A1A" stroke="#1A1A1A" stroke-width="11.00" stroke-linejoin="miter" textLength="272.6" lengthAdjust="spacingAndGlyphs">VS</text>
<text x="944.0" y="386.5" font-size="198.00" font-weight="700" fill="#1A1A1A" stroke="#1A1A1A" stroke-width="11.00" stroke-linejoin="miter" textLength="775.8" lengthAdjust="spacingAndGlyphs">GLOBAL</text>
<text x="1750.0" y="386.5" font-size="198.00" font-weight="700" fill="#1A1A1A" stroke="#1A1A1A" stroke-width="11.00" stroke-linejoin="miter" textLength="308.6" lengthAdjust="spacingAndGlyphs">M2</text>
<text x="216.0" y="533.0" font-size="72.00" font-weight="700" fill="#686868" textLength="982.4" lengthAdjust="spacingAndGlyphs">BTC &amp; M2 Supply Correlation</text>
<text x="1217.4" y="533.0" font-size="72.00" font-weight="700" fill="#686868">·</text>
<text x="1258.9" y="533.0" font-size="72.00" font-weight="700" fill="#686868" textLength="384.2" lengthAdjust="spacingAndGlyphs">2024-2025</text>
<text x="295.0" y="759.0" font-size="59.00" font-weight="700" fill="#1A1A1A" stroke="#1A1A1A" stroke-width="0.80" stroke-linejoin="round" textLength="272.0" lengthAdjust="spacingAndGlyphs">BTC Price</text>
<text x="737.0" y="759.0" font-size="59.00" font-weight="700" fill="#1A1A1A" stroke="#1A1A1A" stroke-width="0.80" stroke-linejoin="round" textLength="283.0" lengthAdjust="spacingAndGlyphs">Global M2</text>
<text x="227.0" y="852.3" font-size="42.50" font-weight="400" fill="#1A1A1A" stroke="#1A1A1A" stroke-width="1.10" stroke-linejoin="round" textLength="157.0" lengthAdjust="spacingAndGlyphs">130,000</text>
<text x="227.0" y="1037.1" font-size="42.50" font-weight="400" fill="#1A1A1A" stroke="#1A1A1A" stroke-width="1.10" stroke-linejoin="round" textLength="157.0" lengthAdjust="spacingAndGlyphs">120,000</text>
<text x="227.0" y="1221.9" font-size="42.50" font-weight="400" fill="#1A1A1A" stroke="#1A1A1A" stroke-width="1.10" stroke-linejoin="round" textLength="157.0" lengthAdjust="spacingAndGlyphs">110,000</text>
<text x="227.0" y="1406.7" font-size="42.50" font-weight="400" fill="#1A1A1A" stroke="#1A1A1A" stroke-width="1.10" stroke-linejoin="round" textLength="157.0" lengthAdjust="spacingAndGlyphs">100,000</text>
<text x="245.0" y="1591.5" font-size="42.50" font-weight="400" fill="#1A1A1A" stroke="#1A1A1A" stroke-width="1.10" stroke-linejoin="round" textLength="139.0" lengthAdjust="spacingAndGlyphs">90,000</text>
<text x="245.0" y="1776.3" font-size="42.50" font-weight="400" fill="#1A1A1A" stroke="#1A1A1A" stroke-width="1.10" stroke-linejoin="round" textLength="139.0" lengthAdjust="spacingAndGlyphs">80,000</text>
<text x="245.0" y="1961.1" font-size="42.50" font-weight="400" fill="#1A1A1A" stroke="#1A1A1A" stroke-width="1.10" stroke-linejoin="round" textLength="139.0" lengthAdjust="spacingAndGlyphs">70,000</text>
<text x="245.0" y="2145.9" font-size="42.50" font-weight="400" fill="#1A1A1A" stroke="#1A1A1A" stroke-width="1.10" stroke-linejoin="round" textLength="139.0" lengthAdjust="spacingAndGlyphs">60,000</text>
<text x="245.0" y="2330.7" font-size="42.50" font-weight="400" fill="#1A1A1A" stroke="#1A1A1A" stroke-width="1.10" stroke-linejoin="round" textLength="139.0" lengthAdjust="spacingAndGlyphs">50,000</text>
<text x="246.0" y="2515.5" font-size="42.50" font-weight="400" fill="#1A1A1A" stroke="#1A1A1A" stroke-width="1.10" stroke-linejoin="round" textLength="138.0" lengthAdjust="spacingAndGlyphs">40,000</text>
<text x="4006.0" y="852.3" font-size="42.50" font-weight="400" fill="#1A1A1A" stroke="#1A1A1A" stroke-width="1.10" stroke-linejoin="round" textLength="147.0" lengthAdjust="spacingAndGlyphs">116.00T</text>
<text x="4006.0" y="1089.9" font-size="42.50" font-weight="400" fill="#1A1A1A" stroke="#1A1A1A" stroke-width="1.10" stroke-linejoin="round" textLength="147.0" lengthAdjust="spacingAndGlyphs">114.00T</text>
<text x="4006.0" y="1327.4" font-size="42.50" font-weight="400" fill="#1A1A1A" stroke="#1A1A1A" stroke-width="1.10" stroke-linejoin="round" textLength="147.0" lengthAdjust="spacingAndGlyphs">112.00T</text>
<text x="4006.0" y="1565.0" font-size="42.50" font-weight="400" fill="#1A1A1A" stroke="#1A1A1A" stroke-width="1.10" stroke-linejoin="round" textLength="147.0" lengthAdjust="spacingAndGlyphs">110.00T</text>
<text x="4007.0" y="1802.6" font-size="42.50" font-weight="400" fill="#1A1A1A" stroke="#1A1A1A" stroke-width="1.10" stroke-linejoin="round" textLength="146.0" lengthAdjust="spacingAndGlyphs">108.00T</text>
<text x="4007.0" y="2040.1" font-size="42.50" font-weight="400" fill="#1A1A1A" stroke="#1A1A1A" stroke-width="1.10" stroke-linejoin="round" textLength="146.0" lengthAdjust="spacingAndGlyphs">106.00T</text>
<text x="4007.0" y="2277.7" font-size="42.50" font-weight="400" fill="#1A1A1A" stroke="#1A1A1A" stroke-width="1.10" stroke-linejoin="round" textLength="146.0" lengthAdjust="spacingAndGlyphs">104.00T</text>
<text x="4007.0" y="2515.3" font-size="42.50" font-weight="400" fill="#1A1A1A" stroke="#1A1A1A" stroke-width="1.10" stroke-linejoin="round" textLength="146.0" lengthAdjust="spacingAndGlyphs">102.00T</text>
<text x="310.0" y="2583.0" font-size="45.00" font-weight="400" fill="#8C8C8C" textLength="223.0" lengthAdjust="spacingAndGlyphs">2024-01-01</text>
<text x="780.4" y="2583.0" font-size="45.00" font-weight="400" fill="#8C8C8C" textLength="227.0" lengthAdjust="spacingAndGlyphs">2024-04-01</text>
<text x="1251.2" y="2583.0" font-size="45.00" font-weight="400" fill="#8C8C8C" textLength="226.0" lengthAdjust="spacingAndGlyphs">2024-07-01</text>
<text x="1721.1" y="2583.0" font-size="45.00" font-weight="400" fill="#8C8C8C" textLength="226.0" lengthAdjust="spacingAndGlyphs">2024-09-30</text>
<text x="2191.0" y="2583.0" font-size="45.00" font-weight="400" fill="#8C8C8C" textLength="226.0" lengthAdjust="spacingAndGlyphs">2024-12-30</text>
<text x="2660.8" y="2583.0" font-size="45.00" font-weight="400" fill="#8C8C8C" textLength="227.0" lengthAdjust="spacingAndGlyphs">2025-03-31</text>
<text x="3131.7" y="2583.0" font-size="45.00" font-weight="400" fill="#8C8C8C" textLength="226.0" lengthAdjust="spacingAndGlyphs">2025-06-30</text>
<text x="3601.6" y="2583.0" font-size="45.00" font-weight="400" fill="#8C8C8C" textLength="227.0" lengthAdjust="spacingAndGlyphs">2025-09-29</text>
<text x="3468.4" y="2460.0" font-size="88.00" font-weight="700" fill="#1A1A1A" stroke="#1A1A1A" stroke-width="5.00" stroke-linejoin="miter" textLength="421.6" lengthAdjust="spacingAndGlyphs">CoinGlass</text>
<text x="216.0" y="2779.0" font-size="50.00" font-weight="700" fill="#686868" textLength="441.0" lengthAdjust="spacingAndGlyphs">Source: CoinGlass</text>
</svg></body></html>
